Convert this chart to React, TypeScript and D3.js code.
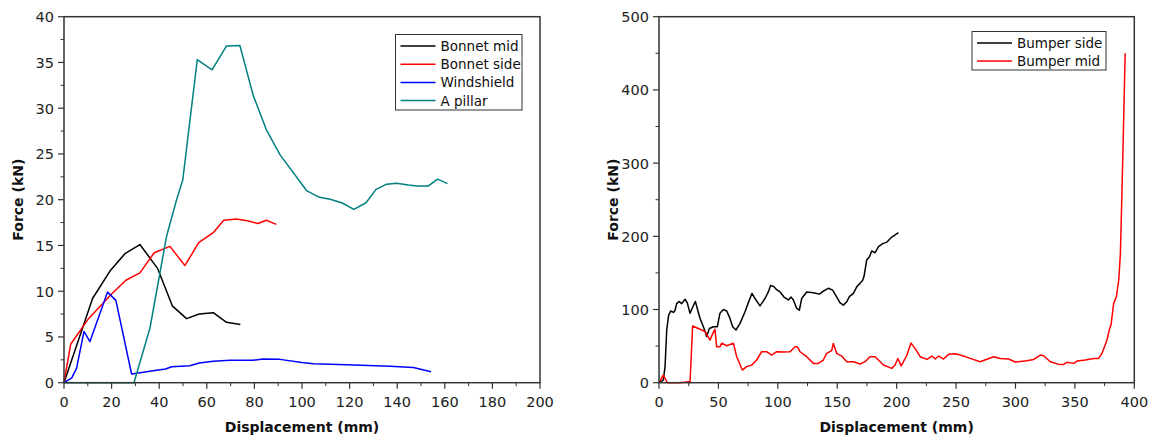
import React from "react";
import * as d3 from "d3";

type P = [number, number];

// ---------- Left chart data (Displacement mm, Force kN) ----------
const bonnetMid: P[] = [
  [0, 0], [12, 9.2], [19.3, 12.2], [25.6, 14.1], [31.9, 15.1], [39.3, 12.5],
  [45.5, 8.4], [51.5, 7.0], [56.8, 7.5], [62.7, 7.65], [68.3, 6.6], [74.1, 6.37],
];
const bonnetSide: P[] = [
  [0, 0], [2.8, 4.2], [10, 6.9], [20, 9.7], [26, 11.2], [31.9, 12.0], [37.9, 14.2],
  [44.5, 14.9], [50.8, 12.8], [56.6, 15.3], [62.7, 16.4], [67.1, 17.75], [72.4, 17.9],
  [77, 17.7], [81.5, 17.4], [85, 17.75], [89.2, 17.3],
];
const windshield: P[] = [
  [0, 0], [3.2, 0.5], [5.3, 1.6], [8.4, 5.6], [10.9, 4.5], [18.3, 9.9], [21.8, 9.0],
  [28.4, 0.95], [34.7, 1.2], [38.9, 1.35], [42.7, 1.5], [45.2, 1.75], [52.9, 1.85],
  [56.8, 2.15], [62.7, 2.35], [69.7, 2.45], [79.4, 2.45], [83.6, 2.6], [90.8, 2.55],
  [99.9, 2.2], [104.8, 2.08], [118.8, 1.97], [137, 1.8], [146.8, 1.65], [154.2, 1.2],
];
const aPillar: P[] = [
  [0, 0], [29.4, 0], [36.1, 5.95], [43.1, 16], [47.3, 20], [49.9, 22.15], [56.0, 35.3],
  [62.2, 34.2], [68.3, 36.8], [73.9, 36.85], [79.5, 31.4], [85.1, 27.6], [90.8, 24.9],
  [101.9, 21.0], [107.3, 20.26], [111.8, 20.04], [116.7, 19.67], [121.8, 18.95],
  [126.9, 19.67], [131.1, 21.13], [135.6, 21.7], [139.8, 21.8], [144.7, 21.6],
  [148.2, 21.5], [153.1, 21.5], [157.0, 22.25], [161.1, 21.75],
];

// ---------- Right chart data ----------
const bumperSide: P[] = [
  [0, 0], [3.6, 3.6], [5.1, 22], [6.5, 72], [8.1, 92], [9.8, 98], [12.1, 96], [13.5, 99],
  [14.9, 108], [16.8, 111], [19.1, 108], [21.9, 114], [23.8, 109], [26.1, 95], [28.3, 103],
  [30.6, 111], [34.5, 88], [37.9, 74], [40.1, 63], [42.4, 74], [45.7, 76.5], [49.1, 76.5],
  [51.3, 95], [54.2, 100], [57.0, 98], [59.2, 90], [62.0, 76.5], [64.8, 72], [68.2, 81],
  [72.4, 97], [76.0, 113], [78.3, 122], [80.8, 115], [85.0, 105], [89.2, 115], [92.0, 124],
  [94.0, 133], [96.8, 131], [99.0, 127], [101.9, 124], [105.2, 117], [108.9, 113],
  [111.1, 117], [113.1, 113], [115.9, 101.5], [118.1, 99], [120.1, 115], [124.3, 124],
  [129.9, 123], [135.0, 121], [138.3, 125], [142.5, 129], [146.2, 126.5], [149.6, 117],
  [152.4, 109], [155.2, 106], [158.0, 110.5], [160.2, 117.5], [163.6, 122], [166.4, 131],
  [169.2, 135.7], [171.4, 140], [172.5, 145], [174.8, 167.5], [177.1, 172], [179.0, 180],
  [181.9, 177.5], [184.7, 186], [188.3, 190], [191.7, 192], [195.9, 199], [201.5, 205],
];
const bumperMid: P[] = [
  [0, 0], [3.6, 10.5], [7.0, 0], [17.7, 0], [24.7, 1.4], [26.1, 0], [28.3, 77.4],
  [31.7, 75], [34.5, 73], [38.7, 70], [42.9, 58], [45.2, 67], [47.1, 73], [48.5, 49],
  [51.3, 49], [52.8, 54], [57.0, 50.5], [62.6, 54], [65.4, 35.5], [70.1, 17.3], [73.8, 22],
  [78.0, 24], [82.2, 31], [86.4, 42.3], [90.6, 42.3], [94.8, 37.8], [99.0, 42.3],
  [104.7, 41.9], [110.3, 42.3], [114.5, 49], [116.4, 49], [118.7, 42.3], [124.3, 35.5],
  [129.9, 26.4], [134.1, 26.4], [138.3, 31], [141.1, 40], [145.3, 43.7], [146.7, 53.7],
  [149.6, 40], [153.8, 36.4], [158.0, 28.7], [163.6, 28.7], [169.2, 25.5], [173.4, 28.7],
  [177.6, 35.5], [181.9, 35.5], [188.9, 24.1], [195.9, 19.6], [198.7, 24.1], [201, 33],
  [203.8, 23], [208.6, 37.5], [212, 54.3], [215.6, 46.6], [219.8, 35.5], [225.5, 31.8],
  [229.7, 36.4], [232.5, 32.3], [235.3, 36.4], [239.5, 32.3], [243.7, 38.7], [249.3, 39.5],
  [253.5, 37.8], [261.9, 33.2], [270.3, 28.7], [281.6, 35.5], [287.2, 33.2], [294.2, 32.3],
  [299.8, 28.2], [309.7, 30], [315.3, 31.8], [320.9, 37.8], [323.7, 36.8], [329.3, 28.7],
  [336.4, 25], [340.6, 25], [343.4, 27.8], [349.0, 26.4], [351.8, 29.5], [358.8, 30.9],
  [365.8, 33.2], [370.0, 33.2], [372.8, 40], [377.0, 58.3], [379.3, 74.2], [380.4, 78.7],
  [382.6, 108], [384.9, 117.4], [386.9, 140], [388.3, 176.6], [389.3, 240], [390.5, 320],
  [392.3, 450],
];

const leftXTicks = [0, 20, 40, 60, 80, 100, 120, 140, 160, 180, 200];
const leftYTicks = [0, 5, 10, 15, 20, 25, 30, 35, 40];
const rightXTicks = [0, 50, 100, 150, 200, 250, 300, 350, 400];
const rightYTicks = [0, 100, 200, 300, 400, 500];

const leftSeries = [
  { name: "Bonnet mid", color: "#000000", data: bonnetMid },
  { name: "Bonnet side", color: "#ff0000", data: bonnetSide },
  { name: "Windshield", color: "#0000ff", data: windshield },
  { name: "A pillar", color: "#008080", data: aPillar },
];
const rightSeries = [
  { name: "Bumper side", color: "#000000", data: bumperSide },
  { name: "Bumper mid", color: "#ff0000", data: bumperMid },
];

const FONT = "DejaVu Sans, sans-serif";
const AXIS = "#333333";

function Panel(props: {
  xDomain: [number, number];
  yDomain: [number, number];
  xRange: [number, number];
  yRange: [number, number];
  xTicks: number[];
  yTicks: number[];
  xMinorStep: number;
  yMinorStep: number;
  series: { name: string; color: string; data: P[] }[];
  legend: { x: number; y: number; w: number; h: number; rowH: number };
  yLabelX: number;
}) {
  const { xDomain, yDomain, xRange, yRange, xTicks, yTicks, xMinorStep, yMinorStep, series, legend, yLabelX } = props;
  const x = d3.scaleLinear().domain(xDomain).range(xRange);
  const y = d3.scaleLinear().domain(yDomain).range(yRange);
  const line = d3.line<P>().x((d) => x(d[0])).y((d) => y(d[1]));
  const xMinor = d3.range(xDomain[0], xDomain[1] + 1e-9, xMinorStep).filter((v) => !xTicks.includes(v));
  const yMinor = d3.range(yDomain[0], yDomain[1] + 1e-9, yMinorStep).filter((v) => !yTicks.includes(v));
  const [x0, x1] = xRange;
  const [y0, y1] = yRange;
  return (
    <g>
      {series.map((s) => (
        <path key={s.name} d={line(s.data) || ""} fill="none" stroke={s.color} strokeWidth={1.5} strokeLinejoin="round" />
      ))}
      <rect x={x0} y={y1} width={x1 - x0} height={y0 - y1} fill="none" stroke={AXIS} strokeWidth={1.5} />
      {xTicks.map((t) => (
        <g key={"xt" + t}>
          <line x1={x(t)} x2={x(t)} y1={y0} y2={y0 + 6} stroke={AXIS} strokeWidth={1.2} />
          <text x={x(t)} y={y0 + 24} textAnchor="middle" fontSize={14.5} fontFamily={FONT} fill="#222">{t}</text>
        </g>
      ))}
      {xMinor.map((t) => (
        <line key={"xm" + t} x1={x(t)} x2={x(t)} y1={y0} y2={y0 + 3.5} stroke={AXIS} strokeWidth={1} />
      ))}
      {yTicks.map((t) => (
        <g key={"yt" + t}>
          <line x1={x0 - 6} x2={x0} y1={y(t)} y2={y(t)} stroke={AXIS} strokeWidth={1.2} />
          <text x={x0 - 10} y={y(t) + 5.5} textAnchor="end" fontSize={14.5} fontFamily={FONT} fill="#222">{t}</text>
        </g>
      ))}
      {yMinor.map((t) => (
        <line key={"ym" + t} x1={x0 - 3.5} x2={x0} y1={y(t)} y2={y(t)} stroke={AXIS} strokeWidth={1} />
      ))}
      <text x={(x0 + x1) / 2} y={432} textAnchor="middle" fontSize={14} fontWeight="bold" fontFamily={FONT} fill="#111">
        Displacement (mm)
      </text>
      <text
        transform={`translate(${yLabelX},${(y0 + y1) / 2}) rotate(-90)`}
        textAnchor="middle"
        fontSize={14}
        fontWeight="bold"
        fontFamily={FONT}
        fill="#111"
      >
        Force (kN)
      </text>
      <rect x={legend.x} y={legend.y} width={legend.w} height={legend.h} fill="#fff" stroke={AXIS} strokeWidth={1} />
      {series.map((s, i) => {
        const cy = legend.y + 11.5 + i * legend.rowH;
        return (
          <g key={"lg" + s.name}>
            <line x1={legend.x + 5} x2={legend.x + 40} y1={cy} y2={cy} stroke={s.color} strokeWidth={1.5} />
            <text x={legend.x + 45} y={cy + 5} fontSize={13.5} fontFamily={FONT} fill="#111">{s.name}</text>
          </g>
        );
      })}
    </g>
  );
}

export default function App() {
  return (
    <svg width={1158} height={441} style={{ position: "absolute", left: 0, top: 0, background: "#fff" }}>
      <rect width={1158} height={441} fill="#fff" />
      <Panel
        xDomain={[0, 200]}
        yDomain={[0, 40]}
        xRange={[64, 540]}
        yRange={[382.7, 16.7]}
        xTicks={leftXTicks}
        yTicks={leftYTicks}
        xMinorStep={10}
        yMinorStep={2.5}
        series={leftSeries}
        legend={{ x: 395.5, y: 34.5, w: 126.5, h: 75.5, rowH: 18.2 }}
        yLabelX={23}
      />
      <Panel
        xDomain={[0, 400]}
        yDomain={[0, 500]}
        xRange={[659, 1134.3]}
        yRange={[382.7, 16.7]}
        xTicks={rightXTicks}
        yTicks={rightYTicks}
        xMinorStep={25}
        yMinorStep={50}
        series={rightSeries}
        legend={{ x: 972, y: 31.5, w: 134, h: 38.5, rowH: 18 }}
        yLabelX={618}
      />
    </svg>
  );
}
